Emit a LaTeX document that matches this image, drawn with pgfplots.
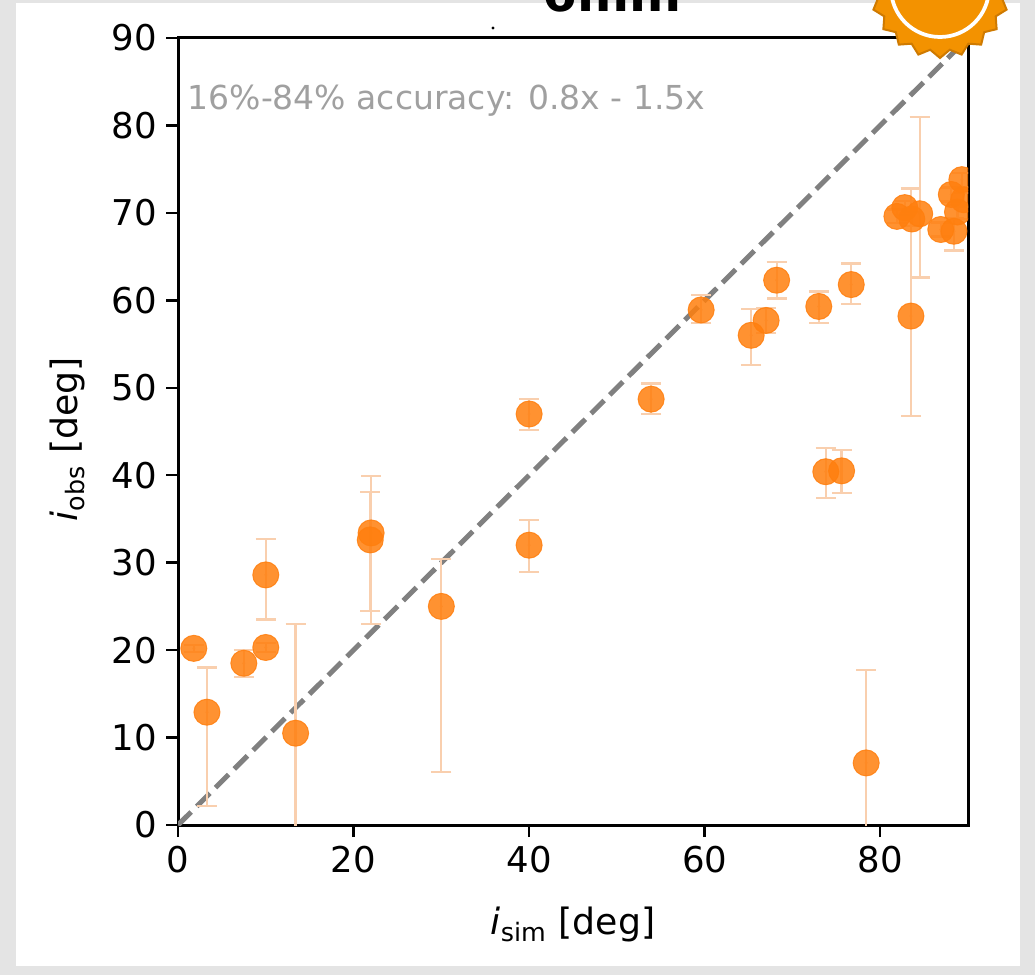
\documentclass[border=0pt]{standalone}
\usepackage{fontspec}
\setmainfont{DejaVu Sans}
\usepackage{pgfplots}
\pgfplotsset{compat=1.18}
\usepackage{pgfplotstable}
\usetikzlibrary{shapes.geometric}
\definecolor{tabor}{HTML}{FF7F0E}
\definecolor{errc}{HTML}{F9CFAE}
\definecolor{dgray}{HTML}{808080}
\definecolor{txtgray}{HTML}{A0A0A0}
\definecolor{bggray}{HTML}{E4E4E4}
\definecolor{badge}{HTML}{F39200}
\definecolor{badgeedge}{HTML}{CF7A00}

\pgfplotstableread{
x y ym yp
1.8 20.2 0.4 0.4
3.3 12.9 10.7 5.1
7.5 18.5 1.6 1.5
10.0 20.3 0.5 0.5
10.0 28.6 5.1 4.1
13.4 10.5 12.0 12.5
22.0 33.4 10.4 6.5
21.9 32.6 8.1 5.5
30.0 25.0 18.9 5.4
40.0 32.0 3.1 2.9
40.0 47.0 1.8 1.7
53.9 48.7 1.7 1.8
59.6 58.9 1.5 1.7
65.3 56.0 3.4 3.0
67.0 57.7 1.4 1.4
68.2 62.3 2.1 2.1
73.0 59.3 1.9 1.7
76.7 61.8 2.2 2.4
73.8 40.4 3.0 2.7
75.6 40.5 2.5 2.4
78.4 7.1 8.5 10.6
83.5 58.2 11.4 14.6
81.9 69.6 0.8 0.8
82.8 70.6 0.8 0.8
83.6 69.3 0.8 0.8
84.5 69.9 7.3 11.1
86.9 68.1 0.8 0.8
88.4 67.9 2.2 1.5
88.1 72.1 0.8 0.8
88.8 70.1 0.8 0.8
89.3 73.8 0.8 0.8
89.5 71.5 0.8 0.8
}\data

\begin{document}
\begin{tikzpicture}[x=0.4pt,y=0.4pt]
\useasboundingbox (0,0) rectangle (1035,975);
\clip (0,0) rectangle (1035,975);
\fill[bggray] (0,0) rectangle (1035,975);
\fill[white] (16,9) rectangle (1020,972);
\node[anchor=base, font=\bfseries\fontsize{20}{24}\selectfont] at (612,963) {6mm};
\fill (493,947) circle (1.6);

\begin{axis}[
 at={(71.2pt,60pt)}, anchor=origin,
 scale only axis, width=316pt, height=314.8pt,
 xmin=0, xmax=90, ymin=0, ymax=90,
 xtick={0,20,40,60,80}, ytick={0,10,...,90},
 tick align=outside, tick pos=left,
 major tick length=4.8pt,
 tick style={black, line width=1pt},
 axis line style={black, line width=1.2pt},
 ticklabel style={font=\fontsize{14.2}{16}\selectfont},
 /pgf/number format/assume math mode=true,
 xlabel={\textit{i}\textsubscript{sim} [deg]},
 ylabel={\textit{i}\textsubscript{obs} [deg]},
 label style={font=\fontsize{14.5}{16}\selectfont},
 x label style={at={(axis description cs:0.5,-0.127)}, anchor=center},
 y label style={at={(axis description cs:-0.14,0.49)}, anchor=center},
 clip marker paths=true,
]
\addplot[dgray, line width=2pt, dash pattern=on 7.4pt off 3.2pt, forget plot] coordinates {(0,0) (90,90)};
\addplot[errc, line width=0.9pt, only marks, mark=*, mark size=0.01pt, forget plot,
  error bars/.cd, y dir=both, y explicit, error mark=|,
  error bar style={errc, line width=0.9pt, solid},
  error mark options={errc, mark size=4pt, line width=0.9pt, solid}]
  table[x=x, y=y, y error minus=ym, y error plus=yp] {\data};
\addplot[only marks, mark=*, mark size=5.2pt,
  mark options={fill=tabor, draw=tabor, opacity=0.85, solid}]
  table[x=x, y=y] {\data};
\node[anchor=base west, text=txtgray, font=\fontsize{13.2}{15}\selectfont] at (axis cs:0.1,81.8) {16\%-84\% accuracy: 0.8x - 1.5x};
\end{axis}

\node[star, star points=20, star point ratio=1.12, minimum size=56pt, inner sep=0pt, fill=badge, draw=badgeedge, line width=0.8pt] at (940,987) {};
\draw[white, line width=1.5pt] (940,987) circle (49);
\end{tikzpicture}
\end{document}
